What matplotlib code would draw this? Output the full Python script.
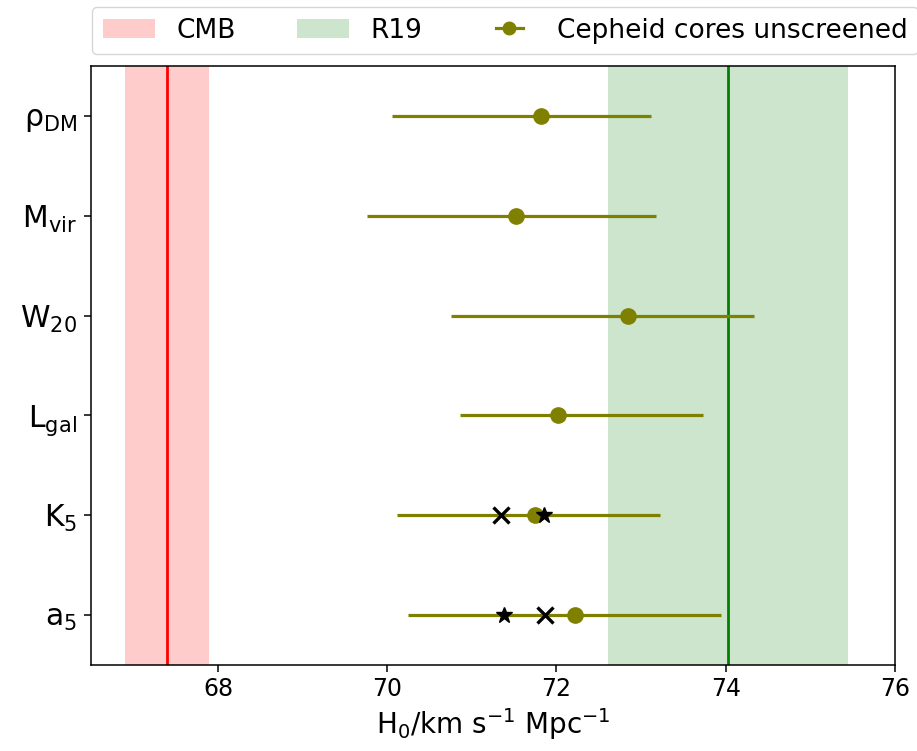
import matplotlib
matplotlib.use("Agg")
import matplotlib.pyplot as plt
from matplotlib.patches import Patch
from matplotlib.lines import Line2D
from matplotlib.legend_handler import HandlerBase

labels = [r'$\mathregular{a_5}$', r'$\mathregular{K_5}$', r'$\mathregular{L_{gal}}$',
          r'$\mathregular{W_{20}}$', r'$\mathregular{M_{vir}}$', r'$\mathregular{\rho_{DM}}$']
h0 = [72.22, 71.75, 72.02, 72.84, 71.52, 71.82]
err_lo = [1.98, 1.63, 1.16, 2.09, 1.76, 1.76]
err_hi = [1.72, 1.47, 1.71, 1.49, 1.66, 1.30]
x_marks = [71.87, 71.35]   # a5, K5
star_marks = [71.38, 71.85]  # a5, K5

cmb, cmb_err = 67.4, 0.5
r19, r19_err = 74.03, 1.42


class ShortErrHandler(HandlerBase):
    def create_artists(self, legend, orig_handle, xdescent, ydescent, width,
                       height, fontsize, trans):
        cx = width / 2 - xdescent
        cy = height / 2 - ydescent
        half = 0.5 * fontsize
        line = Line2D([cx - half, cx + half], [cy, cy], color='olive', lw=2.3,
                      transform=trans)
        mk = Line2D([cx], [cy], marker='o', ms=9, color='olive', ls='none',
                    transform=trans)
        return [line, mk]


W, H = 917, 751
fig = plt.figure(figsize=(W / 100, H / 100), dpi=100)
ax = fig.add_axes([91 / W, 1 - 665 / H, (895 - 91) / W, (665 - 66) / H])

ax.axvspan(cmb - cmb_err, cmb + cmb_err, color='red', alpha=0.2, lw=0)
ax.axvline(cmb, color='red', lw=2)
ax.axvspan(r19 - r19_err, r19 + r19_err, color='green', alpha=0.2, lw=0)
ax.axvline(r19, color='green', lw=2)

y = list(range(len(labels)))
eb = ax.errorbar(h0, y, xerr=[err_lo, err_hi], fmt='o', color='olive', ms=11,
                 lw=2.3, zorder=3)
ax.plot(x_marks, [0, 1], 'x', color='black', ms=12, mew=2.4, zorder=4)
ax.plot(star_marks, [0, 1], '*', color='black', ms=12, zorder=4)

ax.set_xlim(66.5, 76)
ax.set_ylim(-0.5, 5.5)
ax.set_yticks(y)
ax.set_yticklabels(labels, fontsize=21.5)
ax.set_xticks([68, 70, 72, 74, 76])
ax.tick_params(axis='x', labelsize=17)
ax.tick_params(length=5, width=1.1)
ax.tick_params(axis='y', pad=5)
for s in ax.spines.values():
    s.set_linewidth(1.1)
ax.set_xlabel(r'H$_0$/km s$^{-1}$ Mpc$^{-1}$', fontsize=20, labelpad=4)

handles = [Patch(facecolor='red', alpha=0.2), Patch(facecolor='green', alpha=0.2), eb]
fig.legend(handles, ['CMB', 'R19', 'Cepheid cores unscreened'], ncol=3,
           loc='upper left', bbox_to_anchor=(92 / W, 1 - 7 / H), fontsize=19,
           borderaxespad=0, handlelength=2.0, columnspacing=2.3,
           handler_map={type(eb): ShortErrHandler()})

fig.savefig('out.png', dpi=100)
